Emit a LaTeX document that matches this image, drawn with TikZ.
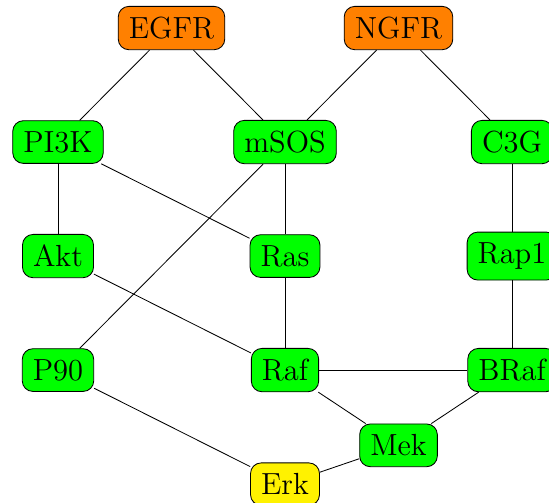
\documentclass[tikz,border=0pt]{standalone}
\begin{document}
\begin{tikzpicture}[x=3.763cm,y=1.89cm,
prot/.style={draw,rounded corners=5pt,fill=green,inner sep=5pt,font=\Large},
rec/.style={prot,fill=orange},
erk/.style={prot,fill=yellow}]
\useasboundingbox (-0.2555,-1.158) rectangle (2.163,3.246);
\node[rec] (egfr) at (0.5,3) {EGFR};
\node[rec] (ngfr) at (1.5,3) {NGFR};
\node[prot] (pi3k) at (0,2) {PI3K};
\node[prot] (msos) at (1,2) {mSOS};
\node[prot] (c3g) at (2,2) {C3G};
\node[prot] (akt) at (0,1) {Akt};
\node[prot] (ras) at (1,1) {Ras};
\node[prot] (rap1) at (2,1) {Rap1};
\node[prot] (p90) at (0,0) {P90};
\node[prot] (raf) at (1,0) {Raf};
\node[prot] (braf) at (2,0) {BRaf};
\node[prot] (mek) at (1.5,-0.66) {Mek};
\node[erk] (erk) at (1,-1) {Erk};
\foreach \a/\b in {egfr/pi3k,egfr/msos,ngfr/msos,ngfr/c3g,pi3k/akt,pi3k/ras,msos/ras,msos/p90,
c3g/rap1,akt/raf,ras/raf,rap1/braf,raf/braf,raf/mek,braf/mek,p90/erk,mek/erk}
\draw (\a) -- (\b);
\end{tikzpicture}
\end{document}
